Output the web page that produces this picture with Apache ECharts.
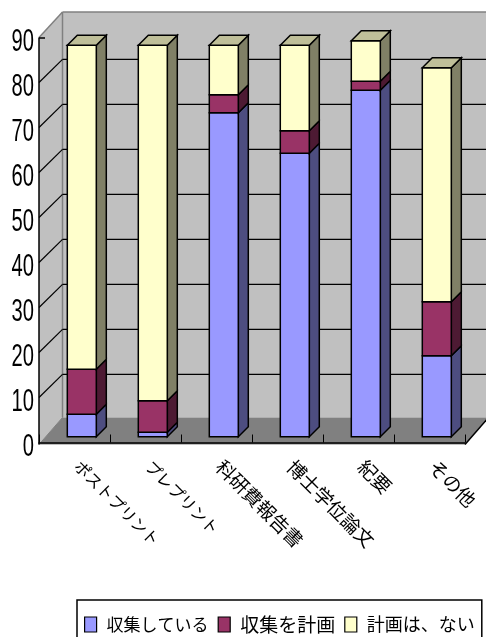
<!DOCTYPE html>
<html><head><meta charset="utf-8">
<style>html,body{margin:0;padding:0;background:#fff;overflow:hidden}#c{width:486px;height:637px}</style>
<script src="https://cdn.jsdelivr.net/npm/echarts@6/dist/echarts.min.js"></script>
</head><body><div id="c"></div>
<script>
const categories = ['ポストプリント','プレプリント','科研費報告書','博士学位論文','紀要','その他'];
const collecting = [5, 1, 72, 63, 77, 18];
const planning = [10, 7, 4, 5, 2, 12];
const noPlan = [72, 79, 11, 19, 9, 52];
const yTicks = [0,10,20,30,40,50,60,70,80,90];
const seriesNames = ['収集している','収集を計画','計画は、ない'];

// 3D projection constants
const BACK_DX = 23.5, BACK_DY = -23.1, BAR_DX = 7.3, BAR_DY = -5.8, BAR_DEPTH_X = 10, BAR_DEPTH_Y = -10, BAR_FRAC = 29/71;
const AX_DROP = 2;
const INK = '#000';
const poly = (pts, fill, stroke, lw) => ({type:'polygon', shape:{points:pts}, style:{fill, stroke:stroke||null, lineWidth:lw||0}});
const seg = (a,b,stroke,lw) => ({type:'line', shape:{x1:a[0],y1:a[1],x2:b[0],y2:b[1]}, style:{stroke, lineWidth:lw}});

function frame(params, api){
  const s = params.coordSys;
  const L = s.x, R = s.x+s.width, T = s.y, B = s.y+s.height+AX_DROP;
  const bT = T - 25.5, bB = B - 27;
  return {type:'group', children:[
    poly([[L+BACK_DX,bT],[R+BACK_DX,bT],[R+BACK_DX,bB],[L+BACK_DX,bB]],'#C0C0C0'),
    poly([[L,T],[L+BACK_DX,bT],[L+BACK_DX,bB],[L,B]],'#C0C0C0'),
    poly([[L,B],[R,B],[R+BACK_DX,bB],[L+BACK_DX,bB]],'#808080'),
    seg([L,T],[L+BACK_DX,bT],'#808080',1.5),
    seg([L+BACK_DX,bT],[R+BACK_DX,bT],'#808080',1.5),
    seg([L+BACK_DX,bT],[L+BACK_DX,bB],'#808080',1.5),
    seg([L,B],[L+BACK_DX,bB],'#808080',1),
    seg([R,B],[R+BACK_DX,bB],INK,1.5),
    seg([L,T],[L,B],INK,1.5)
  ]};
}
function tick(params, api){
  const v = api.value(1);
  const s = params.coordSys;
  const p = api.coord([0,v]);
  const y = p[1], L = s.x, R = s.x+s.width;
  const kids = [];
  if (v>0 && v<90){
    kids.push(seg([L,y],[L+BACK_DX,y+BACK_DY],INK,1.2));
    kids.push(seg([L+BACK_DX,y+BACK_DY],[R+BACK_DX,y+BACK_DY],INK,1.2));
  }
  if (v===90) kids.push(seg([L,y+0.5],[L+6,y+0.5],INK,1.5));
  kids.push({type:'text', x:L-5, y:y+4.5, scaleX:0.63,
    style:{text:String(v), fontFamily:'Liberation Sans', fontSize:32, fill:INK, textAlign:'right', textVerticalAlign:'middle'}});
  return {type:'group', children:kids};
}
function barRenderer(bases, colors, isTop){
  return function(params, api){
    const i = api.value(0), v = api.value(1), base = bases[i];
    const p0 = api.coord([i, base]), p1 = api.coord([i, base+v]);
    const w = api.size([1,0])[0]*BAR_FRAC;
    const x0 = p0[0]-w/2+BAR_DX, x1 = x0+w, y0 = p0[1]+BAR_DY, y1 = p1[1]+BAR_DY;
    const kids = [
      poly([[x1,y1],[x1+BAR_DEPTH_X,y1+BAR_DEPTH_Y],[x1+BAR_DEPTH_X,y0+BAR_DEPTH_Y],[x1,y0]],colors[1],INK,1.5),
      poly([[x0,y1],[x1,y1],[x1,y0],[x0,y0]],colors[0],INK,1.5)
    ];
    if (isTop) kids.push(poly([[x0,y1],[x0+BAR_DEPTH_X,y1+BAR_DEPTH_Y],[x1+BAR_DEPTH_X,y1+BAR_DEPTH_Y],[x1,y1]],colors[2],INK,1.5));
    return {type:'group', children:kids};
  };
}
const base1 = collecting.map(()=>0);
const base2 = collecting.slice();
const base3 = collecting.map((v,i)=>v+planning[i]);
const mk = (name, arr, bases, colors, isTop) => ({
  name, type:'custom', z:4, data:arr.map((v,i)=>[i,v]), itemStyle:{color:colors[0]},
  encode:{x:0,y:1}, renderItem:barRenderer(bases, colors, isTop), clip:false
});
const CJK = 'Noto Sans CJK JP';
const isKatakanaOnly = s => /^[\u30A0-\u30FF]+$/.test(s);

const chart = echarts.init(document.getElementById('c'));
chart.setOption({
  animation:false,
  backgroundColor:'#fff',
  grid:{left:39, top:37.5, width:426, height:405, containLabel:false},
  xAxis:{type:'category', data:categories, z:3, offset:AX_DROP,
    axisLine:{show:true, lineStyle:{color:INK,width:1.5}},
    axisTick:{show:true, inside:true, length:8, lineStyle:{color:INK,width:1}},
    axisLabel:{interval:0, rotate:-45, margin:16, color:INK, fontFamily:CJK, fontSize:19, padding:[0,0,0,4],
      formatter:v => isKatakanaOnly(v) ? '{p|'+v+'}' : '{k|'+v+'}',
      rich:{p:{fontFamily:CJK,fontSize:16,color:INK},k:{fontFamily:CJK,fontSize:19,color:INK}}}},
  yAxis:{type:'value', min:0, max:90, interval:10, z:3,
    axisLine:{show:false}, axisTick:{show:false}, axisLabel:{show:false}, splitLine:{show:false}},
  legend:{data:seriesNames, left:77, top:600, orient:'horizontal', icon:'rect', itemWidth:12, itemHeight:15, itemGap:9,
    padding:[15,7,20,7], borderColor:INK, borderWidth:1.5,
    itemStyle:{borderColor:INK,borderWidth:1.2},
    formatter:n => '{t'+seriesNames.indexOf(n)+'|'+n+'}',
    textStyle:{fontFamily:CJK, fontSize:18, color:INK, padding:[0,0,0,5],
      rich:{t0:{fontFamily:CJK,fontSize:17,color:INK},t1:{fontFamily:CJK,fontSize:19,color:INK},t2:{fontFamily:CJK,fontSize:18,color:INK}}}},
  series:[
    {name:'frame', type:'custom', z:1, silent:true, data:[[0,0]], encode:{x:0,y:1}, renderItem:frame, clip:false},
    {name:'ticks', type:'custom', z:2, silent:true, data:yTicks.map(v=>[0,v]), encode:{x:0,y:1}, renderItem:tick, clip:false},
    mk(seriesNames[0], collecting, base1, ['#9999FF','#4D4D80'], false),
    mk(seriesNames[1], planning, base2, ['#993366','#4D1A33'], false),
    mk(seriesNames[2], noPlan, base3, ['#FFFFCC','#808066','#BFBF99'], true)
  ]
});
</script></body></html>
